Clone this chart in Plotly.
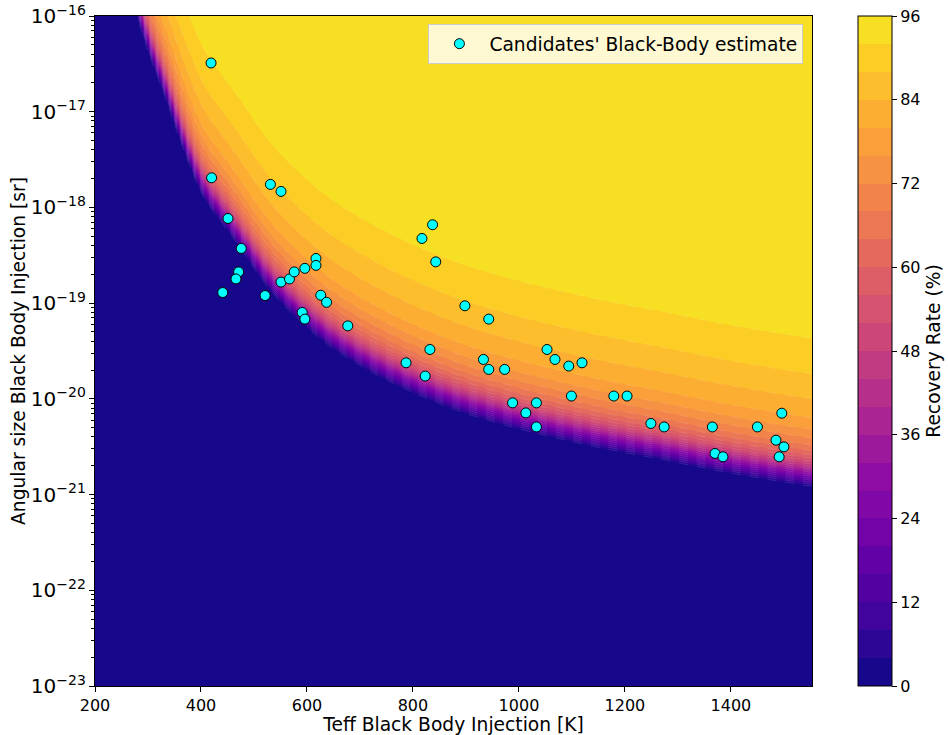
import numpy as np
import plotly.graph_objects as go

# ---------------- data ----------------
# Candidates' black-body estimates
cand_teff = [419, 420, 531, 551, 451, 476, 471, 466, 441, 521, 551, 567, 576, 596,
             617, 617, 626, 637, 591, 596, 677, 837, 817, 843, 898, 943, 787, 832,
             823, 933, 943, 973, 1053, 1068, 1094, 1119, 988, 1033, 1013, 1033,
             1099, 1179, 1204, 1249, 1274, 1365, 1450, 1496, 1485, 1500, 1491,
             1370, 1385]
cand_omega = [3.23e-17, 2.04e-18, 1.74e-18, 1.47e-18, 7.67e-19, 3.73e-19, 2.12e-19,
              1.79e-19, 1.29e-19, 1.20e-19, 1.66e-19, 1.79e-19, 2.12e-19, 2.31e-19,
              2.93e-19, 2.48e-19, 1.21e-19, 1.02e-19, 8.0e-20, 6.81e-20, 5.79e-20,
              6.59e-19, 4.74e-19, 2.70e-19, 9.38e-20, 6.81e-20, 2.38e-20, 3.28e-20,
              1.73e-20, 2.58e-20, 2.03e-20, 2.03e-20, 3.28e-20, 2.58e-20, 2.20e-20,
              2.38e-20, 9.08e-21, 9.08e-21, 7.13e-21, 5.09e-21, 1.07e-20, 1.07e-20,
              1.07e-20, 5.53e-21, 5.09e-21, 5.09e-21, 5.09e-21, 7.08e-21, 3.70e-21,
              3.15e-21, 2.48e-21, 2.69e-21, 2.48e-21]

# detection-onset boundary (log10 angular size where recovery starts), vs Teff
onset_teff = [200, 230, 278.7, 335.3, 403.8, 445.3, 476.8, 533.4, 643.4, 894.3, 1083, 1271.7, 1554.7]
onset_logw = [-13.2, -14.6, -16.0, -16.878, -17.90, -18.206, -18.446, -18.895, -19.46,
              -20.15, -20.432, -20.641, -20.923]

# recovery rate (%) versus height above the onset boundary (decades)
prof_dist = [-0.5, 0.0, 0.03, 0.08, 0.14, 0.2, 0.27, 0.35, 0.45, 0.57, 0.72, 0.92, 1.18, 1.55, 2.4, 4.0]
prof_rate = [1.0, 2.5, 8, 18, 30, 42, 53, 62, 69, 75, 80, 84, 88, 92, 94.5, 95.5]

cbar_ticks = [0, 12, 24, 36, 48, 60, 72, 84, 96]
x_ticks = [200, 400, 600, 800, 1000, 1200, 1400]

# ---------------- grid ----------------
teff_grid = np.linspace(200, 1553, 500)
logw_grid = np.linspace(-23, -16, 420)
u_pts = 1.0 / np.array(onset_teff)[::-1]
b_pts = np.array(onset_logw)[::-1]
b = np.interp(1.0 / teff_grid, u_pts, b_pts)
win = 11
pad = np.pad(b, (win // 2, win // 2), mode="edge")
b = np.convolve(pad, np.ones(win) / win, mode="valid")
D = logw_grid[:, None] - b[None, :]
Z = np.interp(D, prof_dist, prof_rate)
Z = np.clip(Z, 1.0, None)

# ---------------- plasma colormap ----------------
plasma_anchor = ["#0d0887", "#41049d", "#6a00a8", "#8f0da4", "#b12a90", "#cc4778",
                 "#e16462", "#f2844b", "#fca636", "#fcce25", "#f0f921"]


def hex2rgb(h):
    return [int(h[i:i + 2], 16) for i in (1, 3, 5)]


anc = np.array([hex2rgb(h) for h in plasma_anchor], dtype=float)
apos = np.linspace(0, 1, len(plasma_anchor))


def plasma(t):
    t = float(np.clip(t, 0, 1))
    r = np.interp(t, apos, anc[:, 0])
    g = np.interp(t, apos, anc[:, 1])
    bb = np.interp(t, apos, anc[:, 2])
    return "rgb(%d,%d,%d)" % (round(r), round(g), round(bb))


CMAX = 100.0  # colour normalisation of the band midpoints

# continuous scale for the contour (plotly maps band midpoints on [-2, 98])
cs = []
for p in np.linspace(0, 1, 201):
    v = -2 + 100 * p
    cs.append([float(p), plasma(v / CMAX)])

# discrete scale for the colour bar (24 bands of 4 %)
nb = 24
cs_disc = []
for k in range(nb):
    c = plasma((4 * k + 2) / CMAX)
    cs_disc.append([k / nb, c])
    cs_disc.append([(k + 1) / nb, c])

FONT = "DejaVu Sans"
TICK = 16
LAB = 18.67

fig = go.Figure()
fig.add_trace(go.Contour(
    x=teff_grid, y=10.0 ** logw_grid, z=Z,
    colorscale=cs,
    contours=dict(start=0, end=96, size=4, coloring="fill"),
    line=dict(color="rgba(255,255,255,0.22)", width=0.5, dash="dash"),
    showlegend=False, showscale=False,
    hoverinfo="skip",
))

fig.add_trace(go.Scatter(
    x=cand_teff, y=cand_omega, mode="markers",
    name="Candidates' Black-Body estimate",
    marker=dict(color="#00ffff", size=10, line=dict(color="black", width=1)),
))

# colour bar holder
fig.add_trace(go.Scatter(
    x=[None, None], y=[None, None], mode="markers", showlegend=False,
    hoverinfo="skip",
    marker=dict(color=[0, 96], cmin=0, cmax=96, colorscale=cs_disc, showscale=True,
                colorbar=dict(
                    x=1.064, xanchor="left", xpad=0, y=0.5, yanchor="middle",
                    len=1.0, ypad=0, thickness=34, outlinecolor="black",
                    outlinewidth=1, tickvals=cbar_ticks, ticks="outside",
                    ticklen=5, tickcolor="black",
                    tickfont=dict(family=FONT, size=TICK, color="black"),
                    title=dict(text="Recovery Rate (%)", side="right",
                               font=dict(family=FONT, size=LAB, color="black")),
                )),
))

fig.update_layout(
    width=948, height=735,
    margin=dict(l=95, r=136, t=16, b=49, autoexpand=False),
    paper_bgcolor="white", plot_bgcolor="white",
    font=dict(family=FONT, size=TICK, color="black"),
    showlegend=True,
    legend=dict(x=0.988, xanchor="right", y=0.988, yanchor="top",
                bgcolor="rgba(255,255,255,0.8)", bordercolor="#cccccc", borderwidth=1,
                itemwidth=50,
                font=dict(family=FONT, size=LAB, color="black")),
    xaxis=dict(range=[200, 1553], tickvals=x_ticks, ticks="outside", ticklen=5,
               tickcolor="black", showline=True, mirror=True, linecolor="black",
               linewidth=1, showgrid=False, zeroline=False,
               tickfont=dict(family=FONT, size=TICK),
               title=dict(text="Teff Black Body Injection [K]", standoff=1,
                          font=dict(family=FONT, size=LAB))),
    yaxis=dict(type="log", range=[-23, -16], dtick=1, exponentformat="power",
               ticks="outside", ticklen=5, tickcolor="black", showline=True,
               mirror=True, linecolor="black", linewidth=1, showgrid=False,
               zeroline=False, tickfont=dict(family=FONT, size=TICK),
               minor=dict(ticks="outside", ticklen=3, tickcolor="black", dtick="D1",
                          showgrid=False),
               title=dict(text="Angular size Black Body Injection [sr]", standoff=0,
                          font=dict(family=FONT, size=LAB))),
)

fig.write_html("out.html")
